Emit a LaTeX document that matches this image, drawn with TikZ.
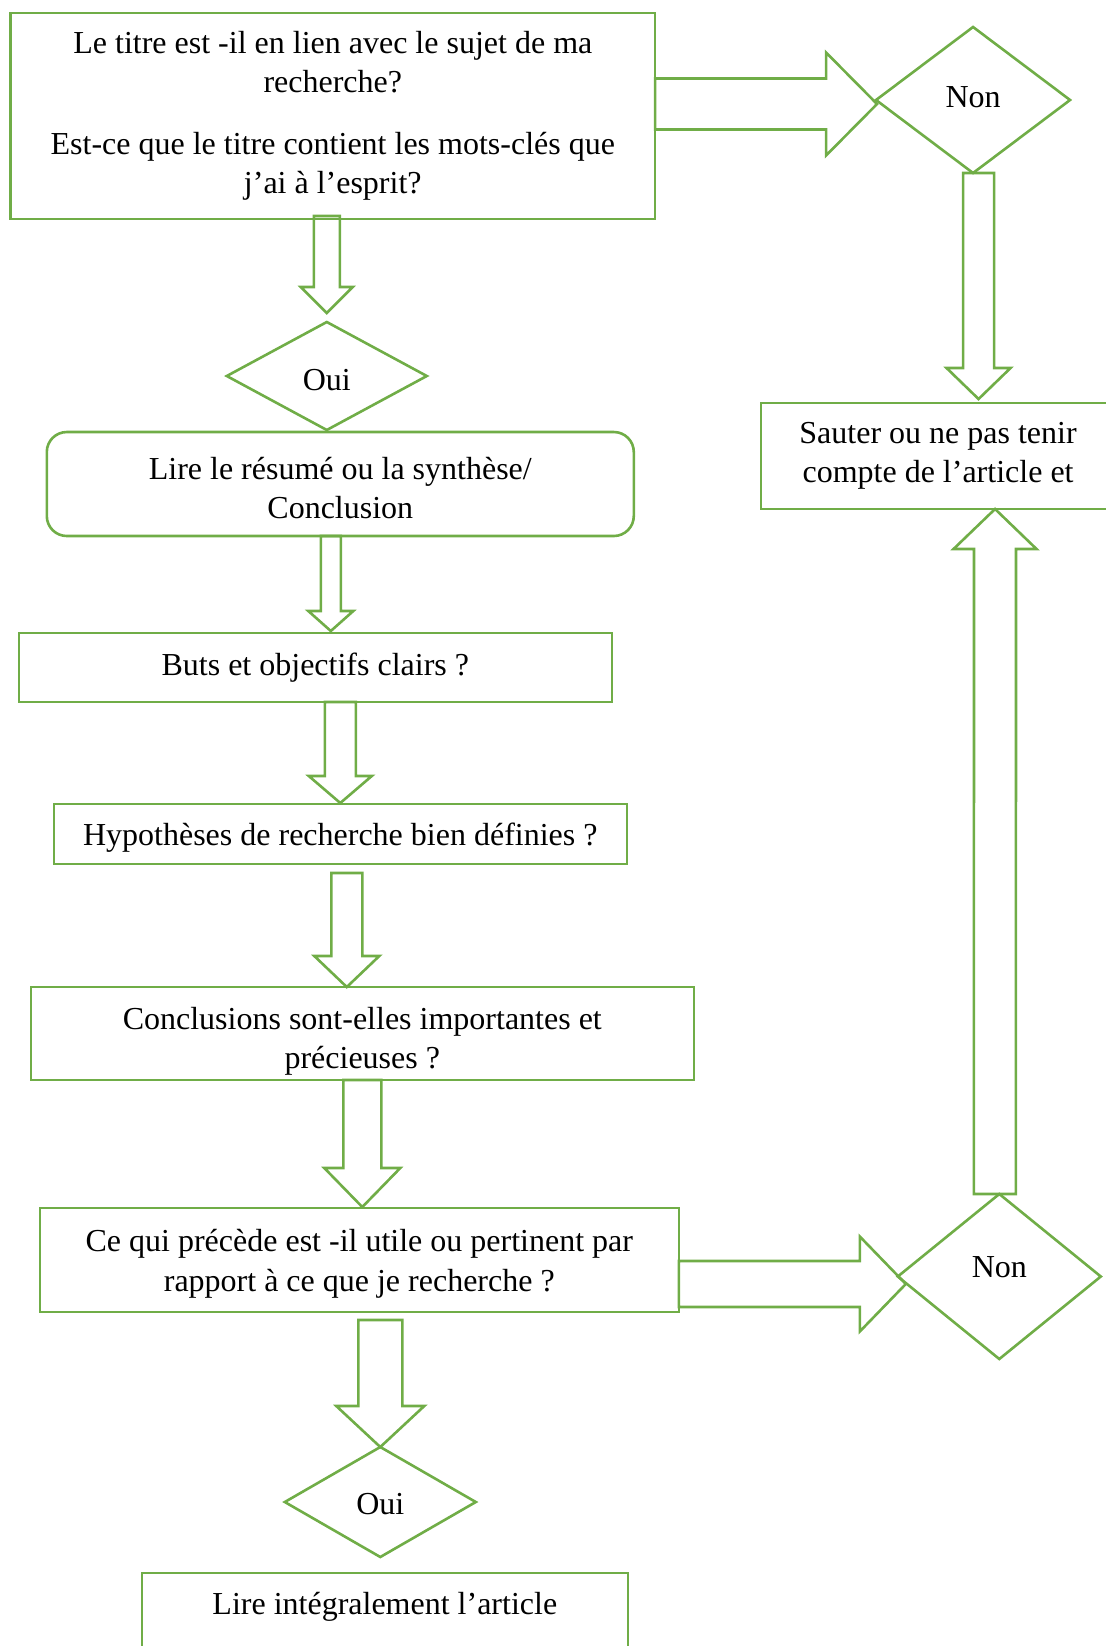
\documentclass[tikz,border=0pt]{standalone}
\usepackage{fontspec}
\setmainfont{Liberation Serif}
\usetikzlibrary{positioning,shapes.geometric,calc}
\definecolor{vert}{RGB}{112,173,71}

% grosse fleche creuse : depart, pointe, demi-largeur du corps, demi-largeur de la tete, longueur de la tete
\newcommand{\grossefleche}[5]{%
   \coordinate (fa) at #1;
   \coordinate (fb) at #2;
   \coordinate (fc) at ($(fb)!#5!(fa)$);
   \draw[fleche] ($(fa)!#3!90:(fb)$) -- ($(fc)!#3!90:(fb)$) -- ($(fc)!#4!90:(fb)$)
      -- (fb) -- ($(fc)!#4!-90:(fb)$) -- ($(fc)!#3!-90:(fb)$) -- ($(fa)!#3!-90:(fb)$) -- cycle;
}
% deplace une ligne de texte verticalement sans changer sa boite
\newcommand{\decale}[2]{\raisebox{#1}[\height][\depth]{#2}}

\begin{document}
\begin{tikzpicture} [
   font=\fontsize{16}{19.75}\selectfont,
   boite/.style={draw=vert, line width=1.3pt, align=center, inner sep=0pt, outer sep=0pt},
   losange/.style={boite, diamond},
   fleche/.style={draw=vert, line width=1.3pt}
]
   \useasboundingbox (0,0) rectangle (553pt,-823pt);
   \node (titre) [boite, minimum width=322.25pt, minimum height=103pt] at (166.4pt,-58pt)
      {Le titre est -il en lien avec le sujet de ma\\ recherche?\\[11pt]
       Est-ce que le titre contient les mots-clés que\\ j’ai à l’esprit?};
   \node (non1) [losange, minimum width=97pt, minimum height=73pt, right=110.5pt of titre, yshift=8pt] {\decale{1.5pt}{Non}};
   \node (sauter) [boite, minimum width=177pt, minimum height=53pt, below=115pt of non1, xshift=-17.5pt]
      {Sauter ou ne pas tenir\\ compte de l’article et};
   \node (oui1) [losange, minimum width=100pt, minimum height=54pt, below=51.5pt of titre, xshift=-3pt] {\decale{-2pt}{Oui}};
   \node (resume) [boite, rounded corners=10pt, minimum width=293.5pt, minimum height=52pt, below=1pt of oui1, xshift=6.75pt]
      {\decale{-2pt}{Lire le résumé ou la synthèse/}\\ \decale{-2pt}{Conclusion}};
   \node (buts) [boite, minimum width=296.5pt, minimum height=34.5pt, below=48.5pt of resume, xshift=-12.5pt]
      {Buts et objectifs clairs ?};
   \node (hypo) [boite, minimum width=286.5pt, minimum height=30pt, below=51pt of buts, xshift=12.5pt]
      {\decale{-2pt}{Hypothèses de recherche bien définies ?}};
   \node (concl) [boite, minimum width=331.5pt, minimum height=46.5pt, below=61.5pt of hypo, xshift=11pt]
      {\decale{-4pt}{Conclusions sont-elles importantes et}\\ \decale{-4pt}{précieuses ?}};
   \node (utile) [boite, minimum width=319.5pt, minimum height=52pt, below=64pt of concl, xshift=-1.5pt]
      {\decale{-2pt}{Ce qui précède est -il utile ou pertinent par}\\ \decale{-2pt}{rapport à ce que je recherche ?}};
   \node (non2) [losange, minimum width=101.5pt, minimum height=82.5pt, right=109.5pt of utile, yshift=-8.25pt] {\decale{4.5pt}{Non}};
   \node (oui2) [losange, minimum width=95.5pt, minimum height=55pt, below=67.5pt of utile, xshift=10.5pt] {\decale{-1pt}{Oui}};
   \node (lire) [boite, minimum width=243pt, minimum height=52pt, below=8pt of oui2, xshift=2.25pt]
      {\decale{-2pt}{Lire intégralement l’article}\\ \strut};

   \grossefleche{($(titre.east)+(0,6pt)$)}{($(non1.west)+(0.5pt,-2pt)$)}{12.75pt}{25.75pt}{25.5pt}
   \grossefleche{($(non1.south)+(2.75pt,0)$)}{($(sauter.north)+(20.25pt,2pt)$)}{7.75pt}{16pt}{15.5pt}
   \grossefleche{($(oui1.north |- titre.south)+(0,1.5pt)$)}{($(oui1.north)+(0,4.5pt)$)}{6.5pt}{13pt}{13pt}
   \grossefleche{($(resume.south)+(-4.75pt,0)$)}{($(buts.north)+(7.75pt,1pt)$)}{5pt}{11.25pt}{10pt}
   \grossefleche{(hypo.north |- buts.south)}{($(hypo.north)+(0,0.5pt)$)}{7.75pt}{15.75pt}{13.5pt}
   \grossefleche{($(hypo.south)+(3.25pt,-4.5pt)$)}{($(concl.north)+(-7.75pt,0)$)}{7.75pt}{16.25pt}{15.5pt}
   \grossefleche{(concl.south)}{($(concl.south |- utile.north)+(0,0.5pt)$)}{9.5pt}{19pt}{19.5pt}
   \grossefleche{($(oui2.north |- utile.south)+(0,-4pt)$)}{(oui2.north)}{11pt}{22pt}{20.5pt}
   \grossefleche{($(utile.east)+(0,-12pt)$)}{($(non2.west)+(4pt,-3.75pt)$)}{11.5pt}{23.75pt}{23pt}
   \grossefleche{($(non2.north)+(-2.25pt,0)$)}{($(sauter.south)+(28.5pt,0)$)}{10.5pt}{20.75pt}{20pt}
\end{tikzpicture}
\end{document}
